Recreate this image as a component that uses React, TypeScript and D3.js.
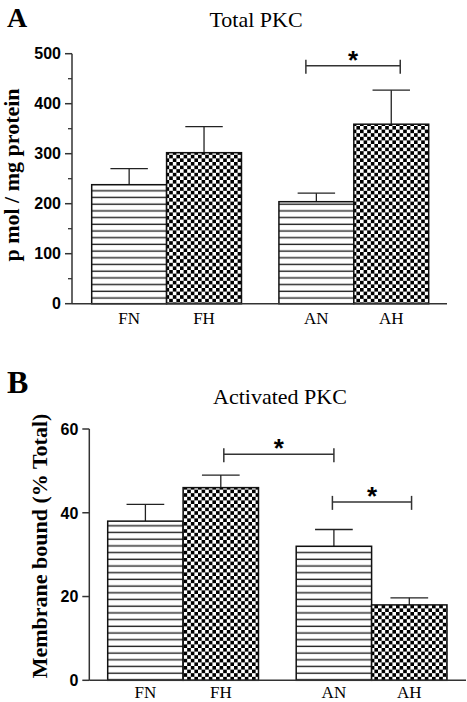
import React from "react";
import * as d3 from "d3";

const categories = ["FN", "FH", "AN", "AH"];
const slots = [0, 1, 2.5, 3.5];
const patterns = ["stripe", "check", "stripe", "check"];

const totalMeans = [238, 302, 204, 359];
const totalSem = [32, 52, 17, 68];
const totalTicks = [0, 100, 200, 300, 400, 500];
const totalMinorTicks = [50, 150, 250, 350, 450];
const totalBrackets = [{ x1: 2.86, x2: 4.12, y: 476 }];

const activMeans = [38, 46, 32, 18];
const activSem = [4, 3, 4, 1.7];
const activTicks = [0, 20, 40, 60];
const activMinorTicks: number[] = [];
const activBrackets = [
  { x1: 1.54, x2: 3.0, y: 54 },
  { x1: 2.98, x2: 4.03, y: 42.6 },
];

type Bracket = { x1: number; x2: number; y: number };

interface PanelProps {
  letter: string;
  letterSize: number;
  letterY: number;
  title: string;
  titleX: number;
  titleY: number;
  yTitle: string;
  yTitleX: number;
  yTitleY: number;
  means: number[];
  sem: number[];
  ticks: number[];
  minorTicks: number[];
  yMax: number;
  yRange: [number, number];
  barRange: [number, number];
  axisLeft: number;
  axisRight: number;
  labelY: number;
  brackets: Bracket[];
}

function Panel(p: PanelProps) {
  const y = d3.scaleLinear().domain([0, p.yMax]).range(p.yRange);
  const x = d3.scaleLinear().domain([0, 4.5]).range(p.barRange);
  const bw = x(1) - x(0);
  const y0 = y(0);
  const axisColor = "#333";
  return (
    <g>
      <text x={7} y={p.letterY} fontFamily="Liberation Serif" fontWeight="bold" fontSize={p.letterSize}>{p.letter}</text>
      <text x={p.titleX} y={p.titleY} textAnchor="middle" fontFamily="Liberation Serif" fontSize={22}>{p.title}</text>
      <text transform={`translate(${p.yTitleX},${p.yTitleY}) rotate(-90)`} textAnchor="middle" fontFamily="Liberation Serif" fontWeight="bold" fontSize={22}>{p.yTitle}</text>
      {categories.map((c, i) => {
        const left = x(slots[i]);
        const top = y(p.means[i]);
        const cx = left + bw / 2;
        const et = y(p.means[i] + p.sem[i]);
        return (
          <g key={c}>
            <line x1={cx} x2={cx} y1={top} y2={et} stroke="#222" strokeWidth={1.3} />
            <line x1={cx - bw / 4} x2={cx + bw / 4} y1={et} y2={et} stroke="#222" strokeWidth={1.3} />
            <rect x={left} y={top} width={bw} height={y0 - top} fill={`url(#${patterns[i]})`} stroke="#111" strokeWidth={1.5} />
            <text x={cx} y={p.labelY} textAnchor="middle" fontFamily="Liberation Serif" fontSize={17}>{c}</text>
          </g>
        );
      })}
      <line x1={p.axisLeft} x2={p.axisLeft} y1={y(p.yMax)} y2={y0} stroke={axisColor} strokeWidth={1.5} />
      <line x1={p.axisLeft} x2={p.axisRight} y1={y0} y2={y0} stroke={axisColor} strokeWidth={1.5} />
      {p.ticks.map((t) => (
        <g key={t}>
          <line x1={p.axisLeft - 7} x2={p.axisLeft} y1={y(t)} y2={y(t)} stroke={axisColor} strokeWidth={1.5} />
          <text x={p.axisLeft - 11} y={y(t)} dy="0.36em" textAnchor="end" fontFamily="Liberation Sans" fontWeight="bold" fontSize={16}>{t}</text>
        </g>
      ))}
      {p.minorTicks.map((t) => (
        <line key={t} x1={p.axisLeft - 4} x2={p.axisLeft} y1={y(t)} y2={y(t)} stroke={axisColor} strokeWidth={1.3} />
      ))}
      {p.brackets.map((b, i) => {
        const bx1 = x(b.x1);
        const bx2 = x(b.x2);
        const by = y(b.y);
        return (
          <g key={i}>
            <line x1={bx1} x2={bx2} y1={by} y2={by} stroke="#333" strokeWidth={1.5} />
            <line x1={bx1} x2={bx1} y1={by - 6} y2={by + 8} stroke="#333" strokeWidth={1.5} />
            <line x1={bx2} x2={bx2} y1={by - 6} y2={by + 8} stroke="#333" strokeWidth={1.5} />
            <text x={(bx1 + bx2) / 2} y={by + 3} textAnchor="middle" fontFamily="Liberation Sans" fontWeight="bold" fontSize={26}>*</text>
          </g>
        );
      })}
    </g>
  );
}

export default function App() {
  return (
    <svg width={467} height={702} style={{ position: "absolute", left: 0, top: 0, background: "#fff" }}>
      <defs>
        <pattern id="stripe" patternUnits="userSpaceOnUse" width={10} height={6.7}>
          <rect width={10} height={6.7} fill="#fff" />
          <rect y={2.5} width={10} height={1.4} fill="#222" />
        </pattern>
        <pattern id="check" patternUnits="userSpaceOnUse" width={7.2} height={7.2}>
          <rect width={7.2} height={7.2} fill="#fff" />
          <rect x={0} y={0} width={3.6} height={3.6} fill="#000" />
          <rect x={3.6} y={3.6} width={3.6} height={3.6} fill="#000" />
        </pattern>
      </defs>
      <Panel
        letter="A"
        letterSize={28}
        letterY={27}
        title="Total PKC"
        titleX={256}
        titleY={27}
        yTitle="p mol / mg protein"
        yTitleX={19}
        yTitleY={175}
        means={totalMeans}
        sem={totalSem}
        ticks={totalTicks}
        minorTicks={totalMinorTicks}
        yMax={500}
        yRange={[303.7, 53.7]}
        barRange={[91.7, 428.7]}
        axisLeft={72}
        axisRight={447}
        labelY={324}
        brackets={totalBrackets}
      />
      <Panel
        letter="B"
        letterSize={32}
        letterY={393}
        title="Activated PKC"
        titleX={280}
        titleY={404}
        yTitle="Membrane bound (% Total)"
        yTitleX={47}
        yTitleY={546}
        means={activMeans}
        sem={activSem}
        ticks={activTicks}
        minorTicks={activMinorTicks}
        yMax={60}
        yRange={[680.3, 429]}
        barRange={[107.7, 447]}
        axisLeft={89.3}
        axisRight={466}
        labelY={698}
        brackets={activBrackets}
      />
    </svg>
  );
}
